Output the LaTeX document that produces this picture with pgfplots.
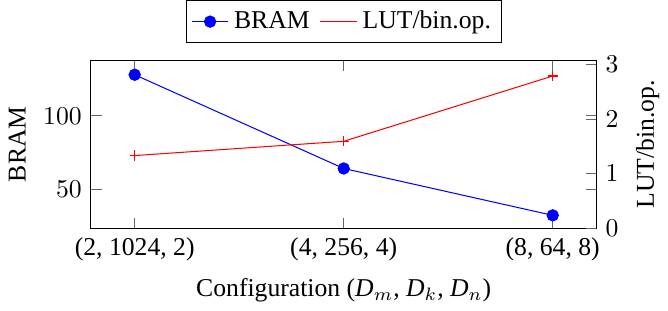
\documentclass[border=0pt]{standalone}
\usepackage{pgfplots}
\pgfplotsset{compat=1.18}
\usepackage{fontspec}
\setmainfont{Liberation Serif}
\begin{document}
\begin{tikzpicture}
\begin{axis}[
  scale only axis, width=197pt, height=65.6pt,
  xmin=-0.21, xmax=2.21,
  ymin=23, ymax=138,
  xtick={0,1,2},
  xticklabels={(2, 1024, 2),(4, 256, 4),(8, 64, 8)},
  ytick={50,100},
  ylabel={BRAM},
  xlabel={Configuration ($\textit{D}_m$, $\textit{D}_k$, $\textit{D}_n$)},
  tick style={black!60},
]
\addplot[blue, mark=*, mark size=2.2pt] coordinates {(0,128) (1,64) (2,32)};
\end{axis}
\begin{axis}[
  scale only axis, width=197pt, height=65.6pt,
  xmin=-0.21, xmax=2.21,
  ymin=0, ymax=3.07,
  axis y line*=right, axis x line=none,
  ytick={0,1,2,3},
  ylabel={LUT/bin.op.},
  tick style={black!60},
  legend style={at={(0.5,1.1)}, anchor=south, legend columns=2, draw=black,
    /tikz/every even column/.append style={column sep=2pt},
    inner xsep=2pt},
  legend image code/.code={\draw[mark repeat=2,mark phase=2,#1] plot coordinates {(0cm,0cm) (0.25cm,0cm) (0.5cm,0cm)};},
]
\addlegendimage{blue, mark=*, mark size=2.2pt}
\addlegendentry{BRAM}
\addlegendimage{red}
\addlegendentry{LUT/bin.op.}
\addplot[red, mark=+, mark size=2pt, forget plot] coordinates {(0,1.33) (1,1.59) (2,2.78)};
\end{axis}
\end{tikzpicture}
\end{document}
